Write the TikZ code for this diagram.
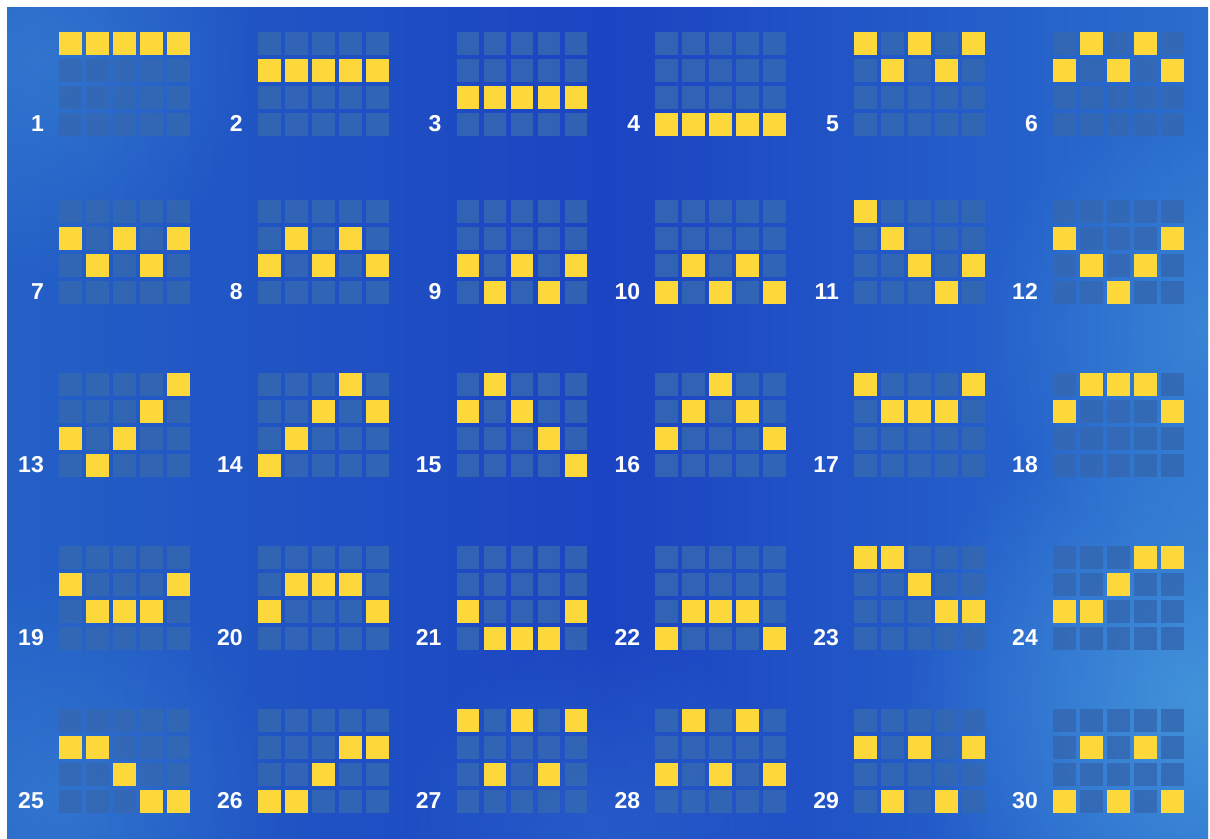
\documentclass[tikz,border=0pt]{standalone}
\usepackage{fontspec}
\setmainfont{Liberation Sans}
\usetikzlibrary{fadings}
\definecolor{bgL}{HTML}{2460C6}
\definecolor{bgM}{HTML}{1B44C2}
\definecolor{bgR}{HTML}{2A6ECE}
\definecolor{glow}{HTML}{4A9FDE}
\definecolor{emptycell}{HTML}{3468B2}
\definecolor{goldcell}{HTML}{FDD83A}
\tikzfading[name=softglow, inner color=transparent!0, outer color=transparent!100]
\tikzset{
  emptysq/.style={fill=emptycell, fill opacity=0.85},
  goldsq/.style={fill=goldcell},
  glowspot/.style={fill=glow, path fading=softglow},
  numlabel/.style={text=white, font=\bfseries\fontsize{23}{23}\selectfont, anchor=base east, inner sep=0pt}
}
\begin{document}
\begin{tikzpicture}[x=1pt,y=-1pt]
\useasboundingbox (0,0) rectangle (1210,838);
\fill[white] (0,0) rectangle (1210,838);
\shade[left color=bgL, right color=bgR, middle color=bgM] (7,7) rectangle (1208,838);
\begin{scope}
\clip (7,7) rectangle (1208,838);
\fill[glowspot, fill opacity=0.75] (1200,700) circle (300pt);
\fill[glowspot, fill opacity=0.45] (1210,330) circle (230pt);
\fill[glowspot, fill opacity=0.35] (40,60) circle (220pt);
\fill[glowspot, fill opacity=0.35] (60,800) circle (230pt);
\fill[glowspot, fill opacity=0.25] (600,830) circle (200pt);
\end{scope}
\foreach \n/\pat [count=\i from 0] in {
 1/{1,1,1,1,1}, 2/{2,2,2,2,2}, 3/{3,3,3,3,3}, 4/{4,4,4,4,4}, 5/{1,2,1,2,1}, 6/{2,1,2,1,2},
 7/{2,3,2,3,2}, 8/{3,2,3,2,3}, 9/{3,4,3,4,3}, 10/{4,3,4,3,4}, 11/{1,2,3,4,3}, 12/{2,3,4,3,2},
 13/{3,4,3,2,1}, 14/{4,3,2,1,2}, 15/{2,1,2,3,4}, 16/{3,2,1,2,3}, 17/{1,2,2,2,1}, 18/{2,1,1,1,2},
 19/{2,3,3,3,2}, 20/{3,2,2,2,3}, 21/{3,4,4,4,3}, 22/{4,3,3,3,4}, 23/{1,1,2,3,3}, 24/{3,3,2,1,1},
 25/{2,2,3,4,4}, 26/{4,4,3,2,2}, 27/{1,3,1,3,1}, 28/{3,1,3,1,3}, 29/{2,4,2,4,2}, 30/{4,2,4,2,4}}{
  \pgfmathtruncatemacro{\gc}{mod(\i,6)}
  \pgfmathtruncatemacro{\gr}{floor(\i/6)}
  \pgfmathsetmacro{\xo}{59+198.8*\gc}
  \pgfmathsetmacro{\yo}{{32,200,373,546,709}[\gr]}
  \foreach \cc in {0,...,4}{
    \foreach \rr in {0,...,3}{
      \fill[emptysq] (\xo+27*\cc,\yo+27*\rr) rectangle ++(22.7,22.7);
    }
  }
  \foreach \r [count=\c from 0] in \pat {
    \fill[goldsq] (\xo+27*\c,\yo+27*\r-27) rectangle ++(22.7,22.7);
  }
  \node[numlabel] (lab\n) at (\xo-15,\yo+99.5) {\n};
}
\end{tikzpicture}
\end{document}
